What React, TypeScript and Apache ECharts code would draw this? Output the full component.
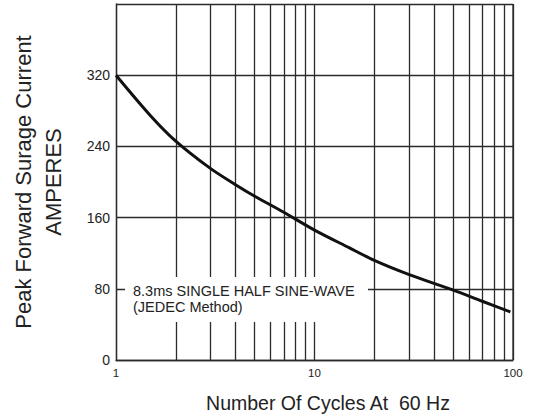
import React, { useEffect, useRef } from "react";
import * as echarts from "echarts";

const cycles = [1, 1.5, 2, 3, 4, 5, 7, 10, 15, 20, 30, 50, 70, 97];
const amperes = [320, 274, 246, 215, 197, 184, 166, 146, 126, 112, 96, 78.5, 66, 54];
const minorGrid = [2, 3, 4, 5, 6, 7, 8, 9, 20, 30, 40, 50, 60, 70, 80, 90];
const yTicks = [0, 80, 160, 240, 320];
const yTitle = "Peak Forward Surage Current\nAMPERES";
const xTitle = "Number Of Cycles At  60 Hz";
const noteLines = ["8.3ms SINGLE HALF SINE-WAVE", "(JEDEC Method)"];

const FONT = "Liberation Sans, Arial, Helvetica, sans-serif";
const GRID_COLOR = "#2b2b2b";

export default function App() {
  const ref = useRef<HTMLDivElement>(null);
  useEffect(() => {
    if (!ref.current) return;
    const chart = echarts.init(ref.current, undefined, { renderer: "svg" });
    chart.setOption({
      animation: false,
      backgroundColor: "#ffffff",
      grid: {
        left: 116,
        top: 4,
        width: 397,
        height: 356,
        containLabel: false,
        outerBoundsMode: "none",
      },
      xAxis: {
        type: "log",
        logBase: 10,
        min: 1,
        max: 100,
        name: xTitle,
        nameLocation: "middle",
        nameGap: 33,
        nameTextStyle: { fontFamily: FONT, fontSize: 19.5, color: "#222", padding: [0, 0, 0, 27] },
        axisLine: { show: true, lineStyle: { color: GRID_COLOR, width: 1.3 } },
        axisTick: { show: false },
        axisLabel: { fontFamily: FONT, fontSize: 11.5, color: "#222", margin: 7 },
        splitLine: { show: true, lineStyle: { color: GRID_COLOR, width: 1.3 } },
      },
      yAxis: {
        type: "value",
        min: 0,
        max: 400,
        interval: 80,
        name: yTitle,
        nameLocation: "middle",
        nameGap: 48,
        nameRotate: 90,
        nameTextStyle: { fontFamily: FONT, fontSize: 22, color: "#222", lineHeight: 30 },
        axisLine: { show: true, lineStyle: { color: GRID_COLOR, width: 1.3 } },
        axisTick: { show: false },
        axisLabel: {
          fontFamily: FONT,
          fontSize: 14,
          color: "#222",
          margin: 6,
          formatter: (v: number) => (yTicks.indexOf(v) >= 0 ? String(v) : ""),
        },
        splitLine: { show: true, lineStyle: { color: GRID_COLOR, width: 1.3 } },
      },
      series: [
        {
          type: "line",
          data: cycles.map((c, i) => [c, amperes[i]]),
          smooth: 0.3,
          showSymbol: false,
          symbol: "none",
          lineStyle: { color: "#111", width: 3 },
          z: 5,
          markLine: {
            silent: true,
            symbol: "none",
            label: { show: false },
            lineStyle: { color: GRID_COLOR, width: 1.3, type: "solid" },
            data: minorGrid.map((v) => ({ xAxis: v })),
            z: 1,
          },
        },
        {
          type: "line",
          data: [[100, 0], [100, 400]],
          showSymbol: false,
          symbol: "none",
          lineStyle: { color: GRID_COLOR, width: 1.3 },
          silent: true,
        },
      ],
      graphic: [
        {
          type: "rect",
          shape: { x: 125, y: 277, width: 243, height: 45 },
          style: { fill: "#ffffff" },
          z: 3,
        },
        {
          type: "text",
          x: 133,
          y: 291,
          style: {
            text: noteLines[0],
            font: `14.5px ${FONT}`,
            fill: "#222",
            textVerticalAlign: "middle",
          },
          z: 4,
        },
        {
          type: "text",
          x: 133,
          y: 307,
          style: {
            text: noteLines[1],
            font: `14.5px ${FONT}`,
            fill: "#222",
            textVerticalAlign: "middle",
          },
          z: 4,
        },
      ],
    });
    return () => chart.dispose();
  }, []);
  return (
    <div
      ref={ref}
      style={{ position: "absolute", left: 0, top: 0, width: 537, height: 415, background: "#fff" }}
    />
  );
}
